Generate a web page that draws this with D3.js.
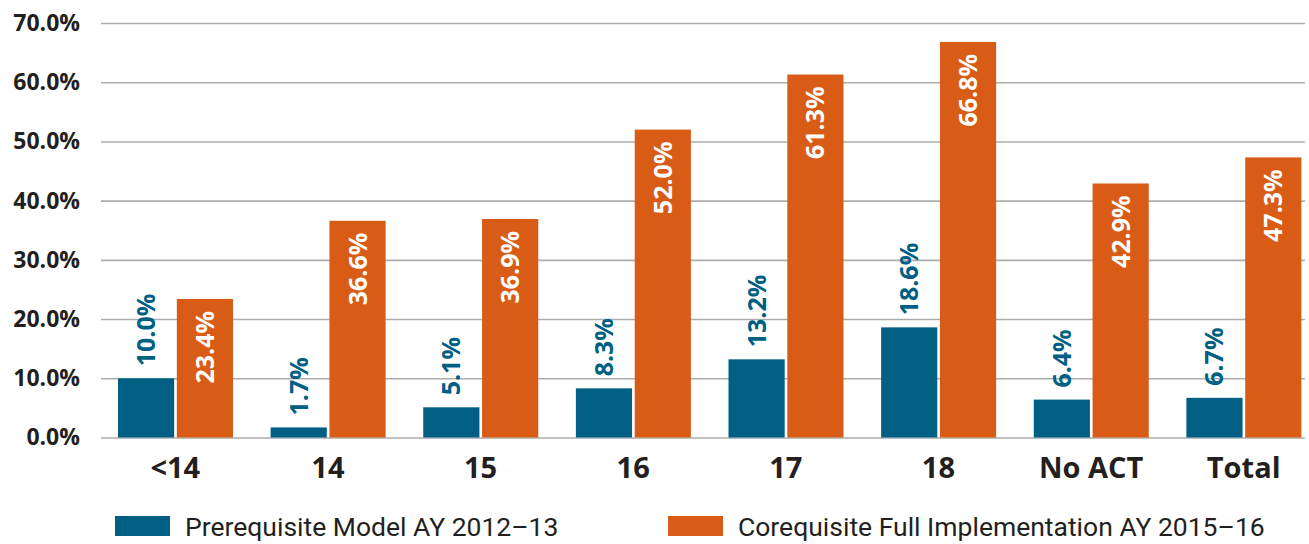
<!DOCTYPE html>
<html>
<head>
<meta charset="utf-8">
<script src="https://cdn.jsdelivr.net/npm/d3@7"></script>
<style>
  body { margin: 0; background: #fff; }
  svg { display: block; }
  .tick line { stroke: #adadad; stroke-width: 1.6; }
</style>
</head>
<body>
<div id="chart"></div>
<script>

var categories = ["<14", "14", "15", "16", "17", "18", "No ACT", "Total"];
var prereq = [10.0, 1.7, 5.1, 8.3, 13.2, 18.6, 6.4, 6.7];
var coreq = [23.4, 36.6, 36.9, 52.0, 61.3, 66.8, 42.9, 47.3];
var seriesNames = ["Prerequisite Model AY 2012\u201313", "Corequisite Full Implementation AY 2015\u201316"];
var yTicks = [0, 10, 20, 30, 40, 50, 60, 70];

var colors = ["#005f83", "#d95c16"];
var width = 1309;
var height = 544;
var plotLeft = 101, plotRight = 1305;
var font = "'Open Sans', sans-serif";

var svg = d3.select("#chart")
  .append("svg")
  .attr("width", width)
  .attr("height", height);

var yScale = d3.scaleLinear()
  .domain([0, 70])
  .range([437.5, 23]);

var x0 = d3.scaleBand()
  .domain(categories)
  .range([99, 1320])
  .padding(0);

var x1 = d3.scaleBand()
  .domain([0, 1])
  .range([19, 134])
  .paddingInner(0.045);

// gridlines + y labels
var yAxis = svg.append("g")
  .attr("transform", "translate(" + plotLeft + ",0)")
  .call(d3.axisLeft(yScale)
    .tickValues(yTicks)
    .tickSize(-(plotRight - plotLeft))
    .tickPadding(21)
    .tickFormat(function(d) { return d3.format(".1f")(d) + "%"; }));
yAxis.select(".domain").remove();
yAxis.selectAll("text")
  .attr("font-family", font)
  .attr("font-weight", 700)
  .attr("font-size", 23)
  .attr("fill", "#231f20");

// x labels
var xAxis = svg.append("g")
  .attr("transform", "translate(0,437.5)")
  .call(d3.axisBottom(x0).tickSize(0).tickPadding(20));
xAxis.select(".domain").remove();
xAxis.selectAll("text")
  .attr("font-family", font)
  .attr("font-weight", 700)
  .attr("font-size", 29)
  .attr("fill", "#231f20");

var rows = categories.map(function(c, i) {
  return { cat: c, vals: [prereq[i], coreq[i]] };
});

var groups = svg.selectAll(".grp")
  .data(rows)
  .enter()
  .append("g")
  .attr("class", "grp")
  .attr("transform", function(d) { return "translate(" + x0(d.cat) + ",0)"; });

var bars = groups.selectAll("g.b")
  .data(function(d) { return d.vals.map(function(v, k) { return { v: v, k: k }; }); })
  .enter()
  .append("g")
  .attr("class", "b");

bars.append("rect")
  .attr("x", function(d) { return x1(d.k); })
  .attr("y", function(d) { return yScale(d.v); })
  .attr("width", x1.bandwidth())
  .attr("height", function(d) { return yScale(0) - yScale(d.v); })
  .attr("fill", function(d) { return colors[d.k]; });

bars.append("text")
  .attr("transform", function(d) {
    var cx = x1(d.k) + x1.bandwidth() / 2;
    var ty = d.k === 0 ? yScale(d.v) - 12 : yScale(d.v) + 12;
    return "translate(" + cx + "," + ty + ") rotate(-90)";
  })
  .attr("dy", "0.36em")
  .attr("text-anchor", function(d) { return d.k === 0 ? "start" : "end"; })
  .attr("font-family", font)
  .attr("font-weight", 700)
  .attr("font-size", 25)
  .attr("fill", function(d) { return d.k === 0 ? colors[0] : "#fff"; })
  .text(function(d) { return d3.format(".1f")(d.v) + "%"; });

// legend
var legendX = [115, 668];
var legend = svg.selectAll(".legend")
  .data(seriesNames)
  .enter()
  .append("g")
  .attr("class", "legend")
  .attr("transform", function(d, i) { return "translate(" + legendX[i] + ",516)"; });

legend.append("rect")
  .attr("width", 55)
  .attr("height", 20)
  .attr("fill", function(d, i) { return colors[i]; });

legend.append("text")
  .attr("x", 70)
  .attr("y", 20)
  .attr("font-family", "Roboto, sans-serif")
  .attr("font-weight", 400)
  .attr("font-size", 26.5)
  .attr("fill", "#231f20")
  .text(function(d) { return d; });

</script>
</body>
</html>
